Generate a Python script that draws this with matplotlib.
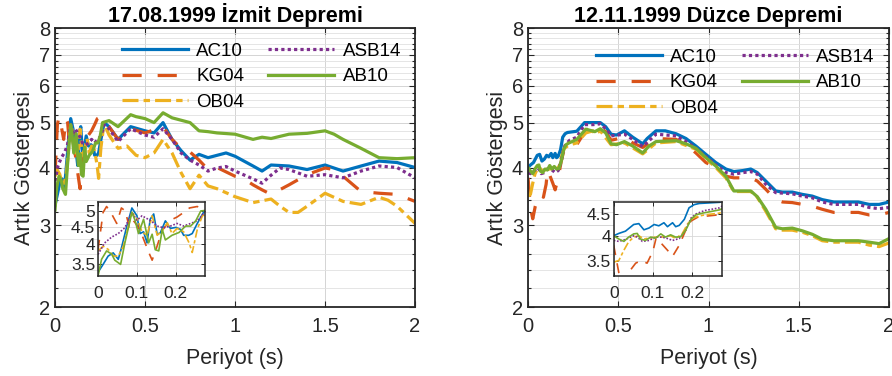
import numpy as np
import matplotlib
matplotlib.use("Agg")
import matplotlib.pyplot as plt
from matplotlib.ticker import FixedLocator, FixedFormatter, NullFormatter

plt.rcParams['font.family'] = ['Liberation Sans', 'DejaVu Sans']

# ---- data (period [s], index value) ----
names = ['AC10', 'KG04', 'OB04', 'ASB14', 'AB10']
colors = ['#0072BD', '#D95319', '#EDB120', '#7E2F8E', '#77AC30']
titles = ['17.08.1999 İzmit Depremi', '12.11.1999 Düzce Depremi']

izmit_ac10_t = [0, 0.013, 0.026, 0.039, 0.052, 0.06, 0.074, 0.087, 0.1, 0.108, 0.117, 0.126, 0.134,
                0.143, 0.152, 0.16, 0.173, 0.186, 0.2, 0.212, 0.22, 0.233, 0.242, 0.255, 0.273,
                0.3, 0.35, 0.42, 0.5, 0.55, 0.6, 0.65, 0.7, 0.75, 0.8, 0.85, 0.95, 1.0, 1.1, 1.15,
                1.2, 1.3, 1.4, 1.5, 1.6, 1.7, 1.8, 1.9, 2.0]
izmit_ac10_v = [3.32, 3.5, 3.7, 3.78, 3.62, 3.9, 4.52, 5.1, 4.84, 4.3, 4.35, 4.04, 4.73,
                4.9, 4.28, 4.32, 4.68, 4.45, 4.48, 4.42, 4.25, 4.25, 4.3, 4.6, 5.0,
                4.9, 4.6, 4.9, 4.8, 4.75, 5.0, 4.6, 4.35, 4.15, 4.27, 4.2, 4.3, 4.23, 4.03, 3.93,
                4.05, 4.03, 3.96, 4.05, 3.93, 4.03, 4.13, 4.1, 4.0]

izmit_kg04_t = [0, 0.013, 0.022, 0.035, 0.048, 0.06, 0.07, 0.08, 0.09, 0.1, 0.115, 0.13, 0.139,
                0.15, 0.165, 0.186, 0.203, 0.22, 0.235, 0.255, 0.275,
                0.3, 0.35, 0.42, 0.5, 0.6, 0.65, 0.7, 0.75, 0.8, 0.85, 0.9, 1.0, 1.05, 1.1, 1.15,
                1.2, 1.3, 1.4, 1.5, 1.55, 1.6, 1.7, 1.8, 1.9, 2.0]
izmit_kg04_v = [3.86, 4.95, 5.15, 4.9, 4.6, 5.1, 5.0, 4.5, 4.7, 4.55, 4.2, 3.8, 3.6,
                3.9, 4.4, 4.7, 4.8, 4.95, 5.1, 5.15, 5.0,
                4.9, 4.6, 4.85, 4.75, 4.9, 4.6, 4.4, 4.32, 4.15, 3.96, 4.0, 3.83, 3.78, 3.67, 3.58,
                3.5, 3.67, 3.86, 3.99, 3.96, 3.83, 3.55, 3.52, 3.5, 3.38]

izmit_ob04_t = [0, 0.013, 0.026, 0.039, 0.052, 0.065, 0.087, 0.1, 0.113, 0.126, 0.139, 0.152,
                0.165, 0.178, 0.19, 0.203, 0.22, 0.234, 0.242, 0.255, 0.268, 0.28,
                0.3, 0.35, 0.4, 0.45, 0.5, 0.55, 0.6, 0.65, 0.7, 0.75, 0.8, 0.85, 0.9, 1.0, 1.1,
                1.2, 1.25, 1.3, 1.35, 1.4, 1.5, 1.6, 1.7, 1.8, 1.85, 1.9, 2.0]
izmit_ob04_v = [3.83, 3.95, 3.87, 3.7, 3.7, 3.95, 4.95, 4.75, 4.35, 4.25, 4.84, 4.25,
                4.38, 4.62, 4.3, 4.45, 4.35, 4.04, 3.79, 4.42, 4.84, 4.9,
                4.7, 4.4, 4.45, 4.25, 4.2, 4.3, 4.6, 4.3, 3.9, 3.6, 3.85, 3.65, 3.6, 3.46, 3.36,
                3.42, 3.3, 3.2, 3.2, 3.3, 3.52, 3.38, 3.33, 3.45, 3.4, 3.3, 3.03]

izmit_asb14_t = [0, 0.017, 0.035, 0.052, 0.069, 0.087, 0.1, 0.113, 0.126, 0.139, 0.152, 0.169,
                 0.186, 0.203, 0.22, 0.238, 0.255, 0.273,
                 0.3, 0.35, 0.42, 0.5, 0.55, 0.6, 0.65, 0.7, 0.75, 0.8, 0.85, 0.9, 0.95, 1.0,
                 1.1, 1.15, 1.2, 1.25, 1.3, 1.4, 1.5, 1.6, 1.7, 1.8, 1.9, 2.0]
izmit_asb14_v = [3.74, 4.04, 4.2, 4.3, 4.47, 4.95, 4.7, 4.84, 4.75, 4.65, 4.52, 4.47,
                 4.52, 4.6, 4.52, 4.6, 4.68, 4.95,
                 4.85, 4.55, 4.85, 4.7, 4.65, 4.85, 4.6, 4.3, 4.15, 4.05, 3.93, 3.99, 4.02, 3.93,
                 3.78, 3.7, 3.85, 3.99, 3.96, 3.83, 3.86, 3.8, 3.93, 4.03, 4.0, 3.8]

izmit_ab10_t = [0, 0.009, 0.022, 0.035, 0.043, 0.058, 0.069, 0.087, 0.095, 0.104, 0.117, 0.13,
                0.139, 0.147, 0.156, 0.165, 0.173, 0.19, 0.208, 0.225, 0.238, 0.251, 0.264,
                0.3, 0.35, 0.42, 0.45, 0.5, 0.55, 0.6, 0.65, 0.75, 0.8, 0.85, 0.9, 1.0, 1.1,
                1.15, 1.2, 1.3, 1.4, 1.5, 1.55, 1.6, 1.7, 1.8, 1.9, 2.0]
izmit_ab10_v = [3.24, 3.62, 3.83, 3.75, 3.6, 3.5, 4.04, 4.95, 4.7, 4.3, 4.73, 4.04,
                4.28, 3.86, 3.83, 4.42, 4.12, 4.25, 4.33, 4.52, 4.52, 4.68, 5.0,
                5.05, 4.9, 5.2, 5.15, 5.1, 5.0, 5.25, 5.12, 5.0, 4.8, 4.78, 4.75, 4.72, 4.6,
                4.65, 4.62, 4.72, 4.74, 4.8, 4.72, 4.6, 4.4, 4.2, 4.18, 4.2]

duzce_ac10_t = [0, 0.013, 0.03, 0.051, 0.064, 0.077, 0.09, 0.103, 0.115, 0.128, 0.137, 0.15,
                0.158, 0.167, 0.18, 0.192, 0.205, 0.218, 0.27,
                0.313, 0.36, 0.4, 0.43, 0.46, 0.49, 0.534, 0.58, 0.635, 0.66, 0.709, 0.76, 0.82,
                0.875, 0.93, 0.985, 1.04, 1.096, 1.14, 1.19, 1.234, 1.27, 1.317, 1.372, 1.41,
                1.464, 1.52, 1.575, 1.63, 1.694, 1.76, 1.83, 1.89, 1.945, 2.0]
duzce_ac10_v = [4.0, 4.05, 4.1, 4.25, 4.27, 4.13, 4.17, 4.25, 4.22, 4.29, 4.2, 4.29,
                4.2, 4.23, 4.37, 4.65, 4.73, 4.76, 4.79,
                5.0, 5.0, 5.0, 4.9, 4.72, 4.7, 4.8, 4.65, 4.5, 4.62, 4.8, 4.8, 4.73,
                4.62, 4.45, 4.27, 4.1, 3.97, 3.92, 3.94, 3.97, 3.9, 3.74, 3.56, 3.54,
                3.54, 3.5, 3.47, 3.41, 3.37, 3.37, 3.37, 3.33, 3.33, 3.37]

duzce_kg04_t = [0, 0.013, 0.026, 0.04, 0.056, 0.07, 0.085, 0.1, 0.108, 0.12, 0.137, 0.15,
                0.167, 0.184, 0.197, 0.214, 0.24, 0.27,
                0.32, 0.36, 0.4, 0.43, 0.46, 0.534, 0.58, 0.635, 0.709, 0.82, 0.875, 0.93,
                0.985, 1.04, 1.096, 1.14, 1.19, 1.234, 1.27, 1.317, 1.372, 1.41, 1.464, 1.52,
                1.575, 1.63, 1.694, 1.83, 1.89, 1.945, 2.0]
duzce_kg04_v = [3.8, 3.28, 3.1, 3.3, 3.45, 3.5, 3.45, 3.68, 3.95, 3.85, 3.7, 3.58,
                3.8, 4.13, 4.33, 4.42, 4.45, 4.48,
                4.82, 4.87, 4.87, 4.78, 4.58, 4.65, 4.52, 4.42, 4.62, 4.6, 4.48, 4.3,
                4.1, 4.0, 3.83, 3.8, 3.8, 3.8, 3.74, 3.59, 3.41, 3.37, 3.36, 3.33,
                3.3, 3.25, 3.2, 3.2, 3.16, 3.16, 3.2]

duzce_ob04_t = [0, 0.013, 0.026, 0.038, 0.051, 0.064, 0.077, 0.09, 0.107, 0.12, 0.132, 0.145,
                0.158, 0.175, 0.188, 0.201, 0.218, 0.235, 0.27,
                0.32, 0.36, 0.37, 0.4, 0.46, 0.534, 0.635, 0.709, 0.82, 0.93, 0.985, 1.04,
                1.096, 1.14, 1.234, 1.27, 1.317, 1.372, 1.41, 1.464, 1.52, 1.575, 1.63, 1.694,
                1.83, 1.89, 1.945, 2.0]
duzce_ob04_v = [3.47, 3.5, 3.7, 3.87, 3.97, 4.0, 3.93, 3.95, 3.97, 3.97, 3.98, 4.0,
                3.94, 4.05, 4.26, 4.4, 4.45, 4.48, 4.52,
                4.75, 4.8, 4.72, 4.8, 4.48, 4.52, 4.28, 4.52, 4.55, 4.38, 4.18, 4.0,
                3.8, 3.55, 3.55, 3.45, 3.22, 2.95, 2.93, 2.93, 2.9, 2.85, 2.78, 2.76,
                2.76, 2.72, 2.7, 2.75]

duzce_asb14_t = [0, 0.013, 0.03, 0.051, 0.06, 0.073, 0.09, 0.107, 0.124, 0.137, 0.15, 0.167,
                 0.184, 0.197, 0.21, 0.231, 0.27,
                 0.313, 0.36, 0.4, 0.43, 0.46, 0.534, 0.58, 0.635, 0.709, 0.82, 0.875, 0.93,
                 0.985, 1.04, 1.096, 1.14, 1.19, 1.234, 1.27, 1.317, 1.372, 1.464, 1.52,
                 1.575, 1.63, 1.694, 1.83, 1.89, 1.945, 2.0]
duzce_asb14_v = [3.9, 3.88, 3.92, 4.0, 3.97, 3.88, 3.9, 3.97, 3.97, 3.94, 3.9, 3.94,
                 4.13, 4.4, 4.5, 4.58, 4.65,
                 4.95, 4.95, 4.97, 4.85, 4.68, 4.72, 4.6, 4.44, 4.72, 4.68, 4.55, 4.4,
                 4.22, 4.05, 3.9, 3.87, 3.9, 3.92, 3.87, 3.68, 3.53, 3.51, 3.47,
                 3.44, 3.37, 3.33, 3.33, 3.28, 3.26, 3.28]

duzce_ab10_t = [0, 0.013, 0.026, 0.038, 0.051, 0.06, 0.068, 0.081, 0.094, 0.107, 0.12, 0.132,
                0.145, 0.158, 0.171, 0.184, 0.197, 0.21, 0.227, 0.244, 0.27,
                0.32, 0.37, 0.4, 0.43, 0.46, 0.49, 0.534, 0.58, 0.635, 0.67, 0.709, 0.82, 0.875,
                0.93, 0.985, 1.04, 1.096, 1.14, 1.19, 1.234, 1.27, 1.317, 1.372, 1.41, 1.464,
                1.52, 1.575, 1.63, 1.694, 1.76, 1.83, 1.89, 1.945, 2.0]
duzce_ab10_v = [4.0, 3.93, 3.88, 3.97, 4.04, 4.05, 3.93, 3.9, 3.97, 3.95, 4.04, 3.97,
                4.02, 3.97, 3.98, 4.13, 4.37, 4.48, 4.52, 4.55, 4.6,
                4.84, 4.78, 4.85, 4.75, 4.5, 4.48, 4.55, 4.45, 4.3, 4.45, 4.55, 4.57, 4.5,
                4.4, 4.2, 4.03, 3.83, 3.56, 3.56, 3.56, 3.46, 3.25, 2.97, 2.95, 2.96,
                2.92, 2.87, 2.8, 2.78, 2.78, 2.78, 2.76, 2.74, 2.81]

panels = [
    [(izmit_ac10_t, izmit_ac10_v), (izmit_kg04_t, izmit_kg04_v), (izmit_ob04_t, izmit_ob04_v),
     (izmit_asb14_t, izmit_asb14_v), (izmit_ab10_t, izmit_ab10_v)],
    [(duzce_ac10_t, duzce_ac10_v), (duzce_kg04_t, duzce_kg04_v), (duzce_ob04_t, duzce_ob04_v),
     (duzce_asb14_t, duzce_asb14_v), (duzce_ab10_t, duzce_ab10_v)],
]

# MATLAB-like line styles, in units of line width
styles = ['-', (0, (6, 5)), (0, (5, 1.6, 2, 1.6)), (0, (1, 1)), '-']

y_ticks = [2, 3, 4, 5, 6, 7, 8]
y_minor = list(np.round(np.arange(2.0, 8.01, 0.2), 1))
inset_yticks = [[3.5, 4, 4.5, 5], [3.5, 4, 4.5]]
inset_ylims = [(3.24, 5.31), (3.22, 4.8)]

axis_col = '#262626'

fig = plt.figure(figsize=(8.92, 3.76), dpi=100)
main_pos = [[0.0617, 0.1835, 0.4036, 0.742], [0.592, 0.1835, 0.4047, 0.742]]
inset_pos = [[0.1099, 0.266, 0.120, 0.197], [0.688, 0.266, 0.121, 0.197]]
leg_anchor = [(0.186, 0.948), (0.188, 0.927)]

for p in range(2):
    ax = fig.add_axes(main_pos[p])
    for (t, v), name, c, ls in zip(panels[p], names, colors, styles):
        ax.plot(t, v, color=c, ls=ls, lw=2.3, label=name)
    ax.set_yscale('log')
    ax.set_xlim(0, 2)
    ax.set_ylim(2, 8)
    ax.set_xticks([0, 0.5, 1, 1.5, 2])
    ax.set_xticklabels(['0', '0.5', '1', '1.5', '2'])
    ax.yaxis.set_major_locator(FixedLocator(y_ticks))
    ax.yaxis.set_major_formatter(FixedFormatter([str(y) for y in y_ticks]))
    ax.yaxis.set_minor_locator(FixedLocator(y_minor))
    ax.yaxis.set_minor_formatter(NullFormatter())
    ax.grid(True, which='major', color='#d4d4d4', lw=0.7)
    ax.grid(True, which='minor', axis='y', color='#e0e0e0', lw=0.6)
    ax.set_axisbelow(True)
    ax.tick_params(which='both', direction='in', top=True, right=True, colors=axis_col,
                   labelsize=14.5, width=0.8)
    ax.tick_params(which='major', length=4)
    ax.tick_params(which='minor', length=2.5)
    ax.tick_params(axis='x', pad=7)
    for s in ax.spines.values():
        s.set_color(axis_col)
        s.set_linewidth(1.3)
    ax.set_title(titles[p], fontsize=15.5, fontweight='bold', pad=4)
    ax.set_xlabel('Periyot (s)', fontsize=15.5, color=axis_col, labelpad=9)
    ax.set_ylabel('Artık Göstergesi', fontsize=15.5, color=axis_col, labelpad=3)

    leg = ax.legend(loc='upper left', bbox_to_anchor=leg_anchor[p], ncol=2, frameon=False,
                    fontsize=13.5, handlelength=3.5, handletextpad=0.45, columnspacing=1.3,
                    labelspacing=0.45, borderpad=0, borderaxespad=0)

    ins = fig.add_axes(inset_pos[p])
    for (t, v), c, ls in zip(panels[p], colors, styles):
        ins.plot(t, v, color=c, ls=ls, lw=1.2)
    ins.set_yscale('log')
    ins.set_xlim(0, 0.275)
    ins.set_ylim(*inset_ylims[p])
    ins.set_xticks([0, 0.1, 0.2])
    ins.set_xticklabels(['0', '0.1', '0.2'])
    ins.yaxis.set_major_locator(FixedLocator(inset_yticks[p]))
    ins.yaxis.set_major_formatter(FixedFormatter([f'{y:g}' for y in inset_yticks[p]]))
    ins.yaxis.set_minor_locator(FixedLocator([]))
    ins.grid(True, color='#d8d8d8', lw=0.6)
    ins.set_axisbelow(True)
    ins.tick_params(which='both', direction='in', top=True, right=True, colors=axis_col,
                    labelsize=12.5, length=3, width=0.7, pad=2)
    ins.tick_params(axis='x', pad=7)
    for s in ins.spines.values():
        s.set_color(axis_col)
        s.set_linewidth(1.1)

fig.savefig('out.png', dpi=100)
